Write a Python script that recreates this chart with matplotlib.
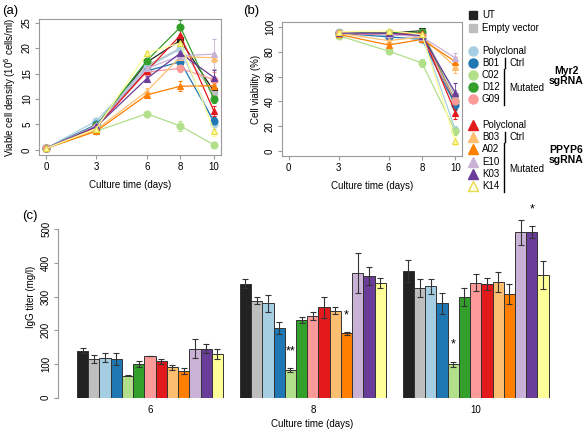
import matplotlib
matplotlib.use("Agg")
import matplotlib.pyplot as plt
import numpy as np

plt.rcParams['font.family'] = ['Liberation Sans', 'DejaVu Sans']

# samples in legend / bar order
samples = ["UT", "Empty vector", "Polyclonal", "B01", "C02", "D12", "G09",
           "Polyclonal", "B03", "A02", "E10", "K03", "K14"]
colors = ["#222222", "#BEBEBE", "#A6CEE3", "#1F78B4", "#B2DF8A", "#33A02C", "#FB9A99",
          "#E31A1C", "#FDBF6F", "#FF7F00", "#CAB2D6", "#6A3D9A", "#FFFF99"]
markers = ["s", "s", "o", "o", "o", "o", "o", "^", "^", "^", "^", "^", "^"]

# (a) viable cell density, 10^6 cells/ml
days_a = [0, 3, 6, 8, 10]
vcd_mean = [
    [0.3, 4.5, 17.2, 21.5, 11.5],
    [0.3, 5.0, 16.5, 20.0, 11.0],
    [0.3, 5.7, 16.2, 19.8, 5.0],
    [0.3, 5.0, 15.5, 17.3, 5.6],
    [0.3, 3.7, 7.1, 4.7, 1.0],
    [0.3, 4.8, 17.5, 24.1, 10.0],
    [0.3, 4.5, 15.3, 16.0, 13.8],
    [0.3, 4.5, 15.5, 22.5, 7.6],
    [0.3, 4.0, 11.5, 18.3, 18.1],
    [0.3, 3.7, 10.8, 12.5, 12.6],
    [0.3, 4.8, 16.0, 18.5, 18.8],
    [0.3, 4.6, 14.0, 19.0, 14.2],
    [0.3, 4.2, 19.0, 21.0, 3.8],
]
vcd_err = [
    [0.1, 0.3, 0.5, 0.8, 0.6],
    [0.1, 0.3, 0.5, 0.8, 0.6],
    [0.1, 0.3, 0.5, 0.8, 0.8],
    [0.1, 0.3, 0.5, 0.8, 0.8],
    [0.1, 0.2, 0.3, 1.0, 0.4],
    [0.1, 0.3, 0.6, 1.5, 0.8],
    [0.1, 0.3, 0.5, 0.8, 1.5],
    [0.1, 0.3, 0.5, 1.0, 1.0],
    [0.1, 0.3, 0.6, 0.8, 0.8],
    [0.1, 0.2, 0.5, 1.0, 0.8],
    [0.1, 0.3, 0.5, 0.8, 3.0],
    [0.1, 0.3, 0.5, 0.8, 1.5],
    [0.1, 0.3, 0.5, 1.0, 1.0],
]

# (b) cell viability, %
days_b = [3, 6, 8, 10]
via_mean = [
    [95, 95, 97, 38],
    [95, 94, 96, 44],
    [96, 93, 94, 17],
    [95, 92, 90, 37],
    [93, 80.5, 71, 16],
    [95, 95, 96, 40],
    [95, 94, 93, 40],
    [95, 94, 95, 31],
    [95, 89, 92, 68],
    [94, 85.5, 90, 72],
    [95, 94, 92, 75],
    [95, 95, 93, 47],
    [96, 97, 94, 8],
]
via_err = [
    [1, 1.5, 1.5, 4], [1, 1.5, 1.5, 5], [1, 1.5, 1.5, 3], [1, 1.5, 1.5, 4],
    [1, 2, 3, 3], [1, 1.5, 1.5, 5], [1, 1.5, 1.5, 5], [1, 1.5, 1.5, 5],
    [1, 2, 2, 5], [1, 2, 2, 4], [1, 2, 2, 4], [1, 1, 1, 8], [1, 1, 1, 3],
]

# (c) IgG titer, mg/l
days_c = ["6", "8", "10"]
igg_d6 = [140, 115, 119, 115, 65, 100, 125, 108, 90, 79, 146, 146, 131]
igg_d8 = [339, 288, 281, 207, 82, 231, 243, 268, 259, 191, 371, 362, 342]
igg_d10 = [376, 325, 331, 280, 99, 298, 342, 337, 343, 308, 491, 492, 364]
igg_err_d6 = [8, 12, 13, 17, 2, 8, 0, 8, 8, 8, 28, 14, 15]
igg_err_d8 = [13, 10, 25, 18, 5, 10, 13, 30, 10, 4, 60, 27, 15]
igg_err_d10 = [33, 27, 22, 32, 8, 27, 25, 18, 30, 30, 36, 17, 41]
# significance marks: (day index, sample index, label)
stars = [(1, 4, "**"), (1, 9, "*"), (2, 4, "*"), (2, 11, "*")]

W, H = 583, 429
fig = plt.figure(figsize=(W / 100, H / 100), dpi=100)


def px_axes(l, t, r, b):
    return fig.add_axes([l / W, 1 - b / H, (r - l) / W, (b - t) / H])


frame_col = "#999999"
fs = 7


def style_frame(ax):
    for s in ax.spines.values():
        s.set_color(frame_col)
        s.set_linewidth(0.8)
    ax.tick_params(colors=frame_col, labelcolor="black", labelsize=fs, length=3, width=0.8, pad=2)
    for lab in ax.get_yticklabels():
        lab.set_rotation(90)
        lab.set_va("center")


def edge_of(c):
    return "#E8D84A" if c == "#FFFF99" else c


# ---- (a)
ax_a = px_axes(39, 19, 221, 155)
for i in range(len(samples)):
    c = colors[i]
    ax_a.errorbar(days_a, vcd_mean[i], yerr=vcd_err[i], color=c, ecolor=c, lw=0.9,
                  elinewidth=0.6, capsize=1.5, marker=markers[i], ms=5,
                  mfc=c, mec=edge_of(c), mew=0.8)
ax_a.set_xlim(-0.42, 10.42)
ax_a.set_ylim(-1.0, 25.7)
ax_a.set_xticks(days_a)
ax_a.set_yticks([0, 5, 10, 15, 20, 25])
style_frame(ax_a)
ax_a.set_xlabel("Culture time (days)", fontsize=fs, labelpad=6)
ax_a.set_ylabel("Viable cell density (10$^6$ cells/ml)", fontsize=fs, labelpad=3)
fig.text(2 / W, 1 - 11 / H, "(a)", fontsize=9.5, va="center")

# ---- (b)
ax_b = px_axes(282, 22, 462, 156)
for i in range(len(samples)):
    c = colors[i]
    ax_b.errorbar(days_b, via_mean[i], yerr=via_err[i], color=c, ecolor=c, lw=0.9,
                  elinewidth=0.6, capsize=1.5, marker=markers[i], ms=5,
                  mfc=c, mec=edge_of(c), mew=0.8)
ax_b.set_xlim(-0.4, 10.4)
ax_b.set_ylim(-4, 104)
ax_b.set_xticks([0, 3, 6, 8, 10])
ax_b.set_yticks([0, 20, 40, 60, 80, 100])
style_frame(ax_b)
ax_b.set_xlabel("Culture time (days)", fontsize=fs, labelpad=6)
ax_b.set_ylabel("Cell viability (%)", fontsize=fs, labelpad=3)
fig.text(243 / W, 1 - 11 / H, "(b)", fontsize=9.5, va="center")

# ---- (c)
ax_c = px_axes(58, 195.7, 566, 397.7)
n = len(samples)
group_step = n + 1.5
igg = [igg_d6, igg_d8, igg_d10]
igg_err = [igg_err_d6, igg_err_d8, igg_err_d10]
for g in range(3):
    x = g * group_step + np.arange(n) + 0.5
    ax_c.bar(x, igg[g], width=1.0, color=colors, edgecolor="#333333", linewidth=0.7)
    ax_c.errorbar(x, igg[g], yerr=igg_err[g], fmt="none", ecolor="#333333",
                  elinewidth=0.8, capsize=2, capthick=0.8)
for g, j, lab in stars:
    xs = g * group_step + j + 0.5
    ax_c.text(xs, igg[g][j] + igg_err[g][j] + 50, lab, ha="center", va="center", fontsize=9)
ax_c.set_xlim(-1.69, 43.54)
ax_c.set_ylim(0, 600)
for s in ["top", "right", "bottom"]:
    ax_c.spines[s].set_visible(False)
ax_c.spines["left"].set_bounds(0, 500)
ax_c.spines["left"].set_color(frame_col)
ax_c.spines["left"].set_linewidth(0.8)
ax_c.set_yticks([0, 100, 200, 300, 400, 500])
ax_c.set_xticks([g * group_step + n / 2 for g in range(3)])
ax_c.set_xticklabels(days_c)
ax_c.tick_params(axis="y", colors=frame_col, labelcolor="black", labelsize=fs, length=3, width=0.8, pad=2)
ax_c.tick_params(axis="x", length=0, labelsize=fs, pad=5)
for lab in ax_c.get_yticklabels():
    lab.set_rotation(90)
    lab.set_va("center")
ax_c.set_xlabel("Culture time (days)", fontsize=fs, labelpad=3)
ax_c.set_ylabel("IgG titer (mg/l)", fontsize=fs, labelpad=4)
fig.text(22 / W, 1 - 216 / H, "(c)", fontsize=9.5, va="center")

# ---- legend
ax_l = px_axes(462, 0, 583, 200)
ax_l.set_xlim(462, 583)
ax_l.set_ylim(200, 0)
ax_l.axis("off")
leg_y = [15, 28, 51, 63, 75, 87, 99, 125, 137, 149, 162, 174, 186]
for i in range(n):
    c = colors[i]
    mfc = "#FFFFEE" if c == "#FFFF99" else c
    ax_l.plot(473, leg_y[i], marker=markers[i], ms=6.5 if markers[i] != "s" else 6,
              mfc=mfc, mec=edge_of(c), mew=1.0, ls="none", clip_on=False)
    ax_l.text(482, leg_y[i], samples[i], fontsize=fs, va="center")
for yy in (leg_y[3], leg_y[8]):
    ax_l.plot([505, 505], [yy - 5, yy + 5], color="black", lw=1)
    ax_l.text(509, yy, "Ctrl", fontsize=fs, va="center")
for y0, y1 in ((leg_y[4] - 6, leg_y[6] + 6), (leg_y[9] - 6, leg_y[12] + 6)):
    ax_l.plot([504, 504], [y0, y1], color="black", lw=1)
    ax_l.text(509, (y0 + y1) / 2 + 1, "Mutated", fontsize=fs, va="center")
ax_l.text(566, 76, "Myr2\nsgRNA", fontsize=7.5, fontweight="bold", ha="center", va="center",
          linespacing=1.1, clip_on=False)
ax_l.text(566, 155, "PPYP6\nsgRNA", fontsize=7.5, fontweight="bold", ha="center", va="center",
          linespacing=1.1, clip_on=False)

fig.savefig("out.png", dpi=100)
